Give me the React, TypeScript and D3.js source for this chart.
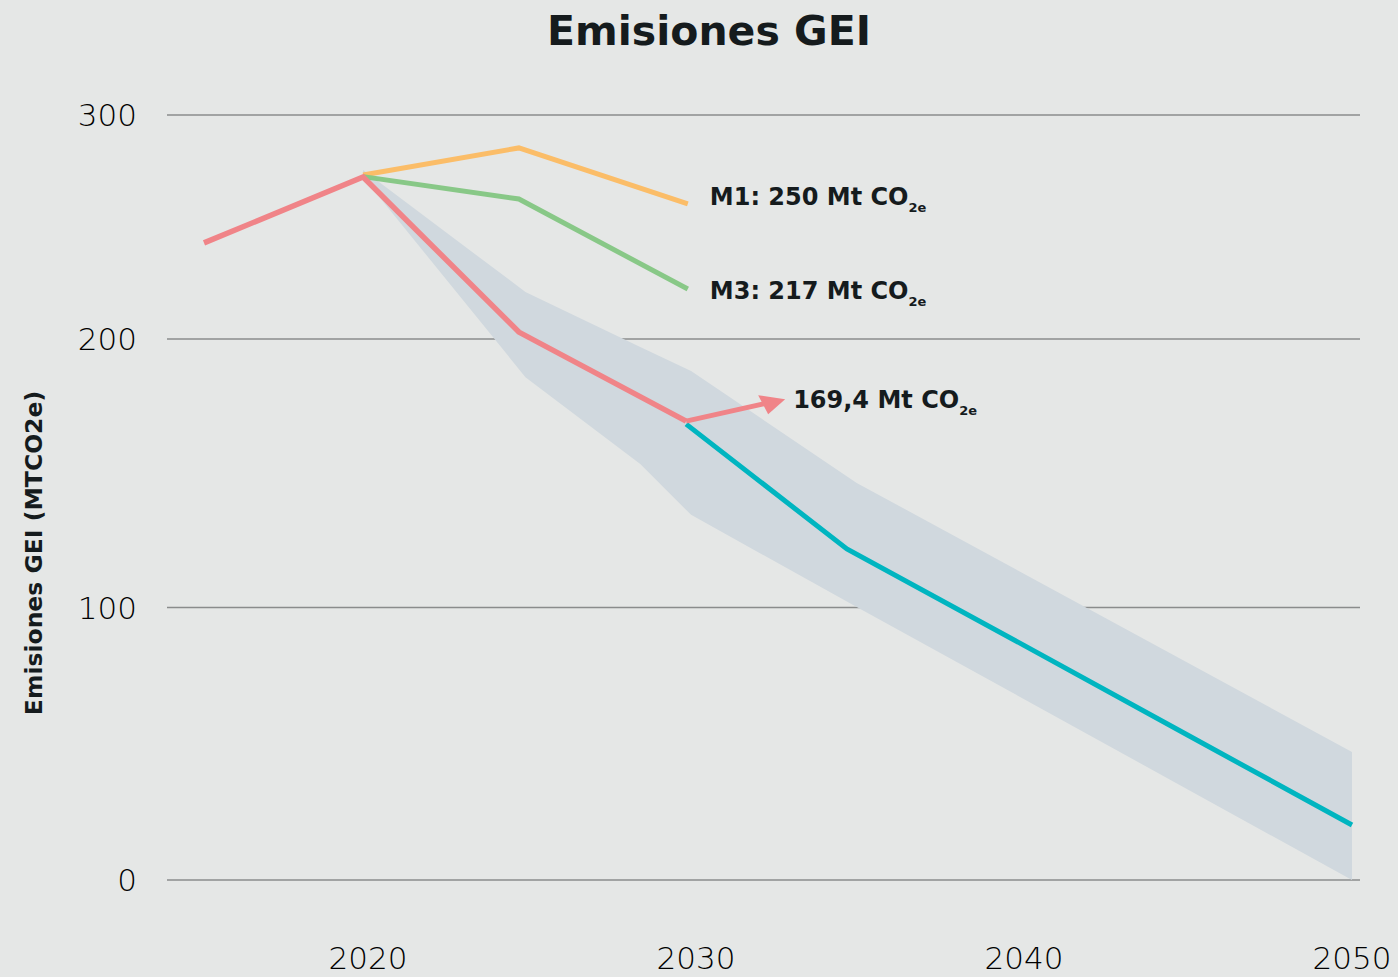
import React from "react";
import * as d3 from "d3";

// historical series (red)
const histYears = [2015, 2019.85, 2024.6, 2029.7];
const histValues = [242.9, 272.3, 203.1, 169.4];

// scenario M1 (orange)
const m1Years = [2019.85, 2024.6, 2029.75];
const m1Values = [273.2, 285.3, 260.3];

// scenario M3 (green)
const m3Years = [2019.85, 2024.6, 2029.75];
const m3Values = [272.5, 262.5, 222.3];

// projection (cyan)
const projYears = [2029.7, 2034.6, 2040, 2045, 2050];
const projValues = [168.3, 121.8, 86.1, 53.1, 20.2];

// uncertainty band
const bandYears = [2019.85, 2024.8, 2028.3, 2029.85, 2034.9, 2050];
const bandUpper = [275.4, 221.0, 197.0, 188.1, 146.4, 47.0];
const bandLower = [272.3, 185.8, 153.4, 134.5, 100.2, 0];

const yTicks = [0, 100, 200, 300];
const xTicks = [2020, 2030, 2040, 2050];

const labels = [
  { text: "M1: 250 Mt CO", sub: "2e", year: 2029.75, value: 260.3, dy: 1 },
  { text: "M3: 217 Mt CO", sub: "2e", year: 2029.75, value: 222.3, dy: 10 },
];
const arrowLabel = { text: "169,4 Mt CO", sub: "2e" };

const W = 1398;
const H = 977;
const font = "'DejaVu Sans', sans-serif";
const ink = "#151b1d";

export default function App() {
  const x = d3.scaleLinear().domain([2015, 2050]).range([204, 1352]);
  // the printed axis is not evenly spaced, so map each gridline separately
  const y = d3.scaleLinear().domain([0, 100, 200, 300]).range([880, 607.5, 339, 115]);

  const line = d3
    .line<[number, number]>()
    .x((d) => x(d[0]))
    .y((d) => y(d[1]));

  const area = d3
    .area<number>()
    .x((_, i) => x(bandYears[i]))
    .y0((_, i) => y(bandLower[i]))
    .y1((_, i) => y(bandUpper[i]));

  const zip = (a: number[], b: number[]) => a.map((v, i) => [v, b[i]] as [number, number]);

  const lastX = x(histYears[histYears.length - 1]);
  const lastY = y(histValues[histValues.length - 1]);
  const tipX = lastX + 99;
  const tipY = lastY - 22;

  return (
    <svg
      width={W}
      height={H}
      style={{ position: "fixed", left: 0, top: 0, background: "#e5e7e6" }}
    >
      <rect width={W} height={H} fill="#e5e7e6" />

      <text x={709} y={45} textAnchor="middle" fontFamily={font} fontWeight="bold" fontSize={41} fill={ink}>
        Emisiones GEI
      </text>

      {yTicks.map((t) => (
        <g key={t}>
          <line x1={167} x2={1360} y1={y(t)} y2={y(t)} stroke="#8a8c8c" strokeWidth={1.5} />
          <text
            x={137}
            y={y(t)}
            dy="0.36em"
            textAnchor="end"
            fontFamily={font}
            fontWeight={300}
            fontSize={31}
            fill="#000"
          >
            {t}
          </text>
        </g>
      ))}

      {xTicks.map((t) => (
        <text
          key={t}
          x={x(t)}
          y={969}
          textAnchor="middle"
          fontFamily={font}
          fontWeight={300}
          fontSize={31}
          fill="#000"
        >
          {t}
        </text>
      ))}

      <text
        transform="translate(42,553) rotate(-90)"
        textAnchor="middle"
        fontFamily={font}
        fontWeight="bold"
        fontSize={23.5}
        fill={ink}
      >
        Emisiones GEI (MTCO2e)
      </text>

      <path d={area(bandYears) || ""} fill="#d0d8de" />

      <path d={line(zip(m1Years, m1Values)) || ""} fill="none" stroke="#fbbd68" strokeWidth={5} />
      <path d={line(zip(m3Years, m3Values)) || ""} fill="none" stroke="#88c887" strokeWidth={5} />
      <path d={line(zip(projYears, projValues)) || ""} fill="none" stroke="#00b5c0" strokeWidth={5} />
      <path d={line(zip(histYears, histValues)) || ""} fill="none" stroke="#f08488" strokeWidth={5.5} />

      {/* arrow to the 2030 value */}
      <line x1={lastX} y1={lastY} x2={tipX - 14} y2={tipY + 3} stroke="#f08488" strokeWidth={5} />
      <polygon
        points={`${tipX},${tipY} ${tipX - 27},${tipY - 4} ${tipX - 17},${tipY + 15}`}
        fill="#f08488"
      />

      {labels.map((l) => (
        <text
          key={l.text}
          x={x(l.year) + 22}
          y={y(l.value) + l.dy}
          fontFamily={font}
          fontWeight="bold"
          fontSize={24}
          fill={ink}
        >
          {l.text}
          <tspan fontSize={13} dy={7}>
            {l.sub}
          </tspan>
        </text>
      ))}

      <text x={tipX + 8} y={tipY + 9} fontFamily={font} fontWeight="bold" fontSize={24} fill={ink}>
        {arrowLabel.text}
        <tspan fontSize={13} dy={7}>
          {arrowLabel.sub}
        </tspan>
      </text>
    </svg>
  );
}
